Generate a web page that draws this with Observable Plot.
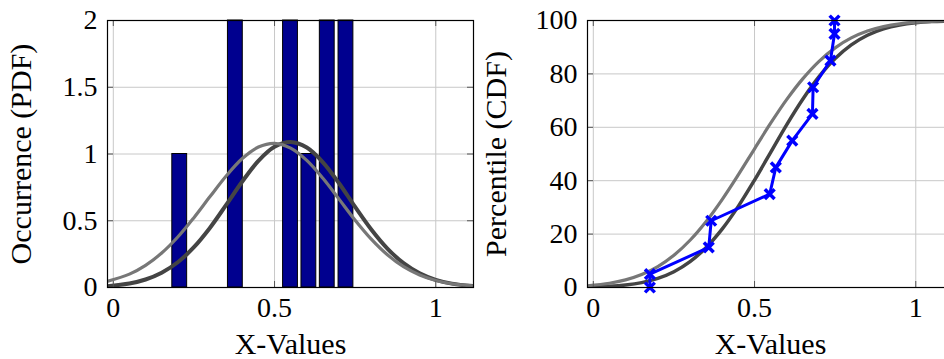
<!DOCTYPE html>
<html><head><meta charset="utf-8">
<script src="https://cdn.jsdelivr.net/npm/d3@7"></script>
<script src="https://cdn.jsdelivr.net/npm/@observablehq/plot@0.6"></script>
<style>
html,body{margin:0;padding:0;background:#fff;overflow:hidden;}
#wrap{position:relative;width:944px;height:359px;overflow:hidden;background:#fff;}
.panel{position:absolute;top:0;width:480px;height:359px;}
.panel svg{max-width:none !important;display:block;}
</style></head><body>
<div id="wrap"><div class="panel" id="left" style="left:0"></div><div class="panel" id="right" style="left:480px"></div></div>
<script>
// ---- data ----
const binCenters = [0.206, 0.3785, 0.5495, 0.6065, 0.6635, 0.7215];
const binCounts  = [1, 2, 2, 1, 2, 2];

const curveX  = [-0.02, 0.05, 0.10, 0.15, 0.20, 0.25, 0.30, 0.35, 0.40, 0.45, 0.50, 0.55, 0.60, 0.65, 0.70, 0.75, 0.80, 0.85, 0.90, 0.95, 1.00, 1.05, 1.12];
const pdfFit  = [0.010, 0.030, 0.060, 0.111, 0.189, 0.302, 0.448, 0.619, 0.794, 0.949, 1.054, 1.090, 1.048, 0.938, 0.781, 0.604, 0.435, 0.292, 0.182, 0.106, 0.057, 0.029, 0.010];
const pdfAlt  = [0.045, 0.100, 0.166, 0.258, 0.378, 0.523, 0.681, 0.835, 0.966, 1.052, 1.080, 1.044, 0.952, 0.818, 0.662, 0.504, 0.362, 0.245, 0.156, 0.094, 0.053, 0.028, 0.011];
const cdfFit  = [0.14, 0.44, 0.93, 1.83, 3.39, 5.90, 9.68, 14.99, 21.95, 30.48, 40.24, 50.6, 61.0, 70.6, 78.96, 85.73, 90.85, 94.46, 96.84, 98.30, 99.14, 99.59, 99.87];
const cdfAlt  = [0.64, 1.59, 2.86, 4.86, 7.85, 12.08, 17.70, 24.73, 33.03, 42.27, 51.95, 61.52, 70.44, 78.23, 84.71, 89.76, 93.47, 96.05, 97.72, 98.76, 99.36, 99.69, 99.89];

const sampleX   = [0.1755, 0.1755, 0.358, 0.3656, 0.547, 0.566, 0.617, 0.6796, 0.6817, 0.7354, 0.748, 0.748];
const samplePct = [0, 5, 15, 25, 35, 45, 55, 65, 75, 85, 95, 100];

const xTicks   = [0, 0.5, 1];
const pdfTicks = [0, 0.5, 1, 1.5, 2];
const cdfTicks = [0, 20, 40, 60, 80, 100];
const xLabel = "X-Values";
const pdfLabel = "Occurrence (PDF)";
const cdfLabel = "Percentile (CDF)";

// ---- layout / style ----
const W = 480, H = 359, mL = 107, mR = 7, mT = 20, mB = 72;
const fw = W - mL - mR, fh = H - mT - mB;
const font = "'Liberation Serif', 'Times New Roman', serif";
const barW = 0.046;
const xDomain = [-0.018, 1.117];

function panel(yDomain, yTicks, marks, ylabel, ylabelDx) {
  return Plot.plot({
    width: W, height: H, marginLeft: mL, marginRight: mR, marginTop: mT, marginBottom: mB,
    style: {fontFamily: font, fontSize: "28px", background: "transparent", overflow: "visible"},
    x: {domain: xDomain},
    y: {domain: yDomain},
    marks: [
      Plot.gridX(xTicks, {stroke: "#c8c8c8", strokeOpacity: 1, strokeWidth: 1}),
      Plot.gridY(yTicks, {stroke: "#c8c8c8", strokeOpacity: 1, strokeWidth: 1}),
      ...marks,
      Plot.tickY(yTicks, {y: d => d, insetRight: fw - 6, stroke: "#555"}),
      Plot.tickY(yTicks, {y: d => d, insetLeft: fw - 6, stroke: "#555"}),
      Plot.tickX(xTicks, {x: d => d, insetTop: fh - 6, stroke: "#555"}),
      Plot.tickX(xTicks, {x: d => d, insetBottom: fh - 6, stroke: "#555"}),
      Plot.frame({stroke: "#000", strokeWidth: 1.2}),
      Plot.axisX(xTicks, {tickSize: 0, tickPadding: 10, label: null, tickFormat: d => String(d), fontSize: 28}),
      Plot.axisY(yTicks, {tickSize: 0, tickPadding: 10, label: null, tickFormat: d => String(d), fontSize: 28}),
      Plot.text([xLabel], {frameAnchor: "bottom", dy: 66, fontSize: 30, fill: "#000"}),
      Plot.text([ylabel], {frameAnchor: "left", textAnchor: "middle", rotate: -90, dx: ylabelDx, fontSize: 30, fill: "#000"})
    ]
  });
}

const bars = binCenters.map((c, i) => ({x1: c - barW / 2, x2: c + barW / 2, n: binCounts[i]}));
const pdfFitData = curveX.map((x, i) => ({x, y: pdfFit[i]}));
const pdfAltData = curveX.map((x, i) => ({x, y: pdfAlt[i]}));
const cdfFitData = curveX.map((x, i) => ({x, y: cdfFit[i]}));
const cdfAltData = curveX.map((x, i) => ({x, y: cdfAlt[i]}));
const samples = sampleX.map((x, i) => ({x, y: samplePct[i]}));

const left = panel([0, 2], pdfTicks, [
  Plot.rect(bars, {x1: "x1", x2: "x2", y1: 0, y2: "n", fill: "#00008f", stroke: "#000", strokeWidth: 1}),
  Plot.line(pdfFitData, {x: "x", y: "y", stroke: "#444", strokeWidth: 4, curve: "catmull-rom", clip: true}),
  Plot.line(pdfAltData, {x: "x", y: "y", stroke: "#777", strokeWidth: 3.2, curve: "catmull-rom", clip: true})
], pdfLabel, -86);

const right = panel([0, 100], cdfTicks, [
  Plot.line(cdfFitData, {x: "x", y: "y", stroke: "#444", strokeWidth: 3.5, curve: "catmull-rom", clip: true}),
  Plot.line(cdfAltData, {x: "x", y: "y", stroke: "#777", strokeWidth: 3.2, curve: "catmull-rom", clip: true}),
  Plot.line(samples, {x: "x", y: "y", stroke: "#0000ff", strokeWidth: 3}),
  Plot.dot(samples, {x: "x", y: "y", symbol: "times", r: 4.5, stroke: "#0000ff", strokeWidth: 3.5})
], cdfLabel, -91);

document.getElementById("left").appendChild(left);
document.getElementById("right").appendChild(right);
</script>
</body></html>
